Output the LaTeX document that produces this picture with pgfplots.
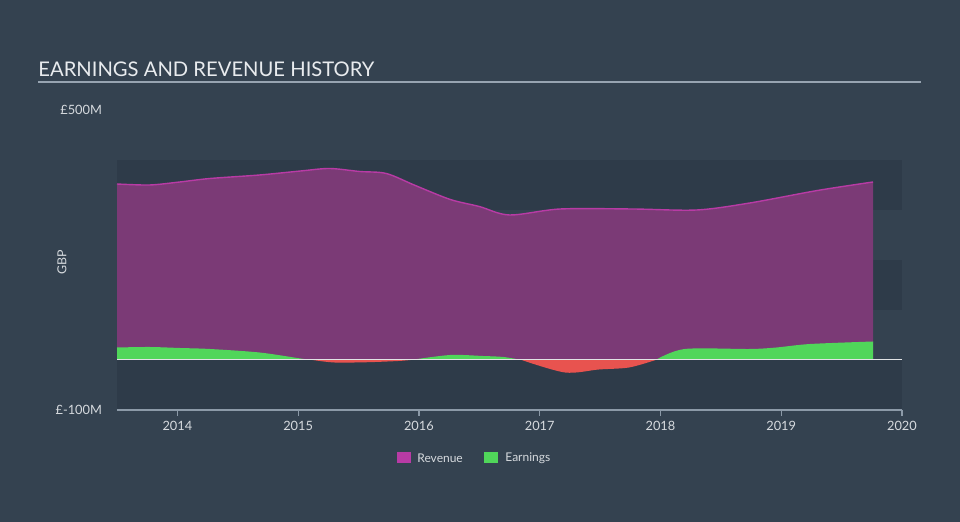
\documentclass[border=0pt]{standalone}
\usepackage{pgfplots}
\pgfplotsset{compat=1.18}
\usepackage{fontspec}
\setmainfont{Lato}
\definecolor{bg}{RGB}{52,66,80}
\definecolor{band}{RGB}{46,59,73}
\definecolor{revfill}{RGB}{123,58,118}
\definecolor{revline}{RGB}{184,59,165}
\definecolor{earn}{RGB}{80,214,90}
\definecolor{loss}{RGB}{232,83,79}
\definecolor{txt}{RGB}{232,235,238}
\definecolor{ticktxt}{RGB}{214,218,222}
\definecolor{axisc}{RGB}{140,154,168}
\begin{document}
\begin{tikzpicture}[x=0.5pt,y=-0.5pt]
% background (pixel coordinates, y downwards)
\fill[bg] (0,0) rectangle (960,522);
% horizontal bands
\fill[band] (117,160) rectangle (902,210);
\fill[band] (117,260) rectangle (902,310);
\fill[band] (117,360) rectangle (902,410);
% title
\node[anchor=base west, text=txt, inner sep=0pt, font=\fontsize{10.1pt}{12pt}\selectfont] at (38,77) {EARNINGS AND REVENUE HISTORY};
\draw[color=axisc!90!white, line width=1pt] (38,82) -- (921,82);
% y label
\node[rotate=90, text=ticktxt, inner sep=0pt, font=\fontsize{6.2pt}{7pt}\selectfont] at (62,262) {GBP};
% legend
\fill[revline] (397,452) rectangle (411,463);
\node[anchor=west, text=ticktxt, inner sep=0pt, font=\fontsize{6pt}{7pt}\selectfont] at (417,458) {Revenue};
\fill[earn] (484,452) rectangle (498,463);
\node[anchor=west, text=ticktxt, inner sep=0pt, font=\fontsize{6pt}{7pt}\selectfont] at (505,458) {Earnings};
\begin{axis}[
  at={(58.5pt,-205pt)}, anchor=south west,
  scale only axis, width=392.5pt, height=150pt,
  xmin=2013.5, xmax=2020, ymin=-100, ymax=500,
  axis x line*=bottom, axis y line*=left,
  x axis line style={draw=axisc, line width=0.6pt},
  y axis line style={draw=none},
  xtick={2014,2015,2016,2017,2018,2019,2020},
  xticklabels={2014,2015,2016,2017,2018,2019,2020},
  ytick={-100,500}, yticklabels={£-100M,£500M},
  ytick style={draw=none},
  xtick style={draw=axisc, line width=0.6pt},
  tick align=outside, major tick length=3pt,
  ticklabel style={text=ticktxt, font=\fontsize{6.4pt}{7pt}\selectfont},
  xticklabel style={yshift=1pt},
  yticklabel style={xshift=-1pt},
  clip=false,
]
\addplot[fill=revfill, draw=none, smooth] coordinates {
(2013.5,352) (2013.77,350) (2014.02,356) (2014.27,363) (2014.68,370) (2015.02,378) (2015.26,383) (2015.51,377) (2015.73,373) (2015.97,349) (2016.26,321) (2016.5,307) (2016.75,290) (2017.17,302) (2017.77,302) (2018.3,300) (2018.74,314) (2019.3,339) (2019.76,356)
} \closedcycle;
\addplot[draw=revline, line width=0.7pt, smooth] coordinates {
(2013.5,352) (2013.77,350) (2014.02,356) (2014.27,363) (2014.68,370) (2015.02,378) (2015.26,383) (2015.51,377) (2015.73,373) (2015.97,349) (2016.26,321) (2016.5,307) (2016.75,290) (2017.17,302) (2017.77,302) (2018.3,300) (2018.74,314) (2019.3,339) (2019.76,356)
};
\addplot[fill=earn, draw=none, smooth] coordinates {
(2013.5,25) (2013.77,26) (2014.02,24) (2014.27,22) (2014.68,15) (2015.02,3) (2015.12,0)
} \closedcycle;
\addplot[fill=loss, draw=none, smooth] coordinates {
(2015.12,0) (2015.3,-5) (2015.57,-4.5) (2015.83,-2) (2015.93,0)
} \closedcycle;
\addplot[fill=earn, draw=none, smooth] coordinates {
(2015.93,0) (2016.26,10) (2016.53,8) (2016.7,6) (2016.85,0)
} \closedcycle;
\addplot[fill=loss, draw=none, smooth] coordinates {
(2016.85,0) (2017.21,-25) (2017.49,-19) (2017.74,-15) (2017.96,0)
} \closedcycle;
\addplot[fill=earn, draw=none, smooth] coordinates {
(2017.96,0) (2018.2,22) (2018.74,22) (2018.96,25) (2019.24,32) (2019.76,37)
} \closedcycle;
\addplot[draw=white!85!bg, line width=0.5pt] coordinates {(2013.5,0) (2020,0)};
\end{axis}
\pgfresetboundingbox
\path[use as bounding box] (0,0) rectangle (960,522);
\end{tikzpicture}
\end{document}
